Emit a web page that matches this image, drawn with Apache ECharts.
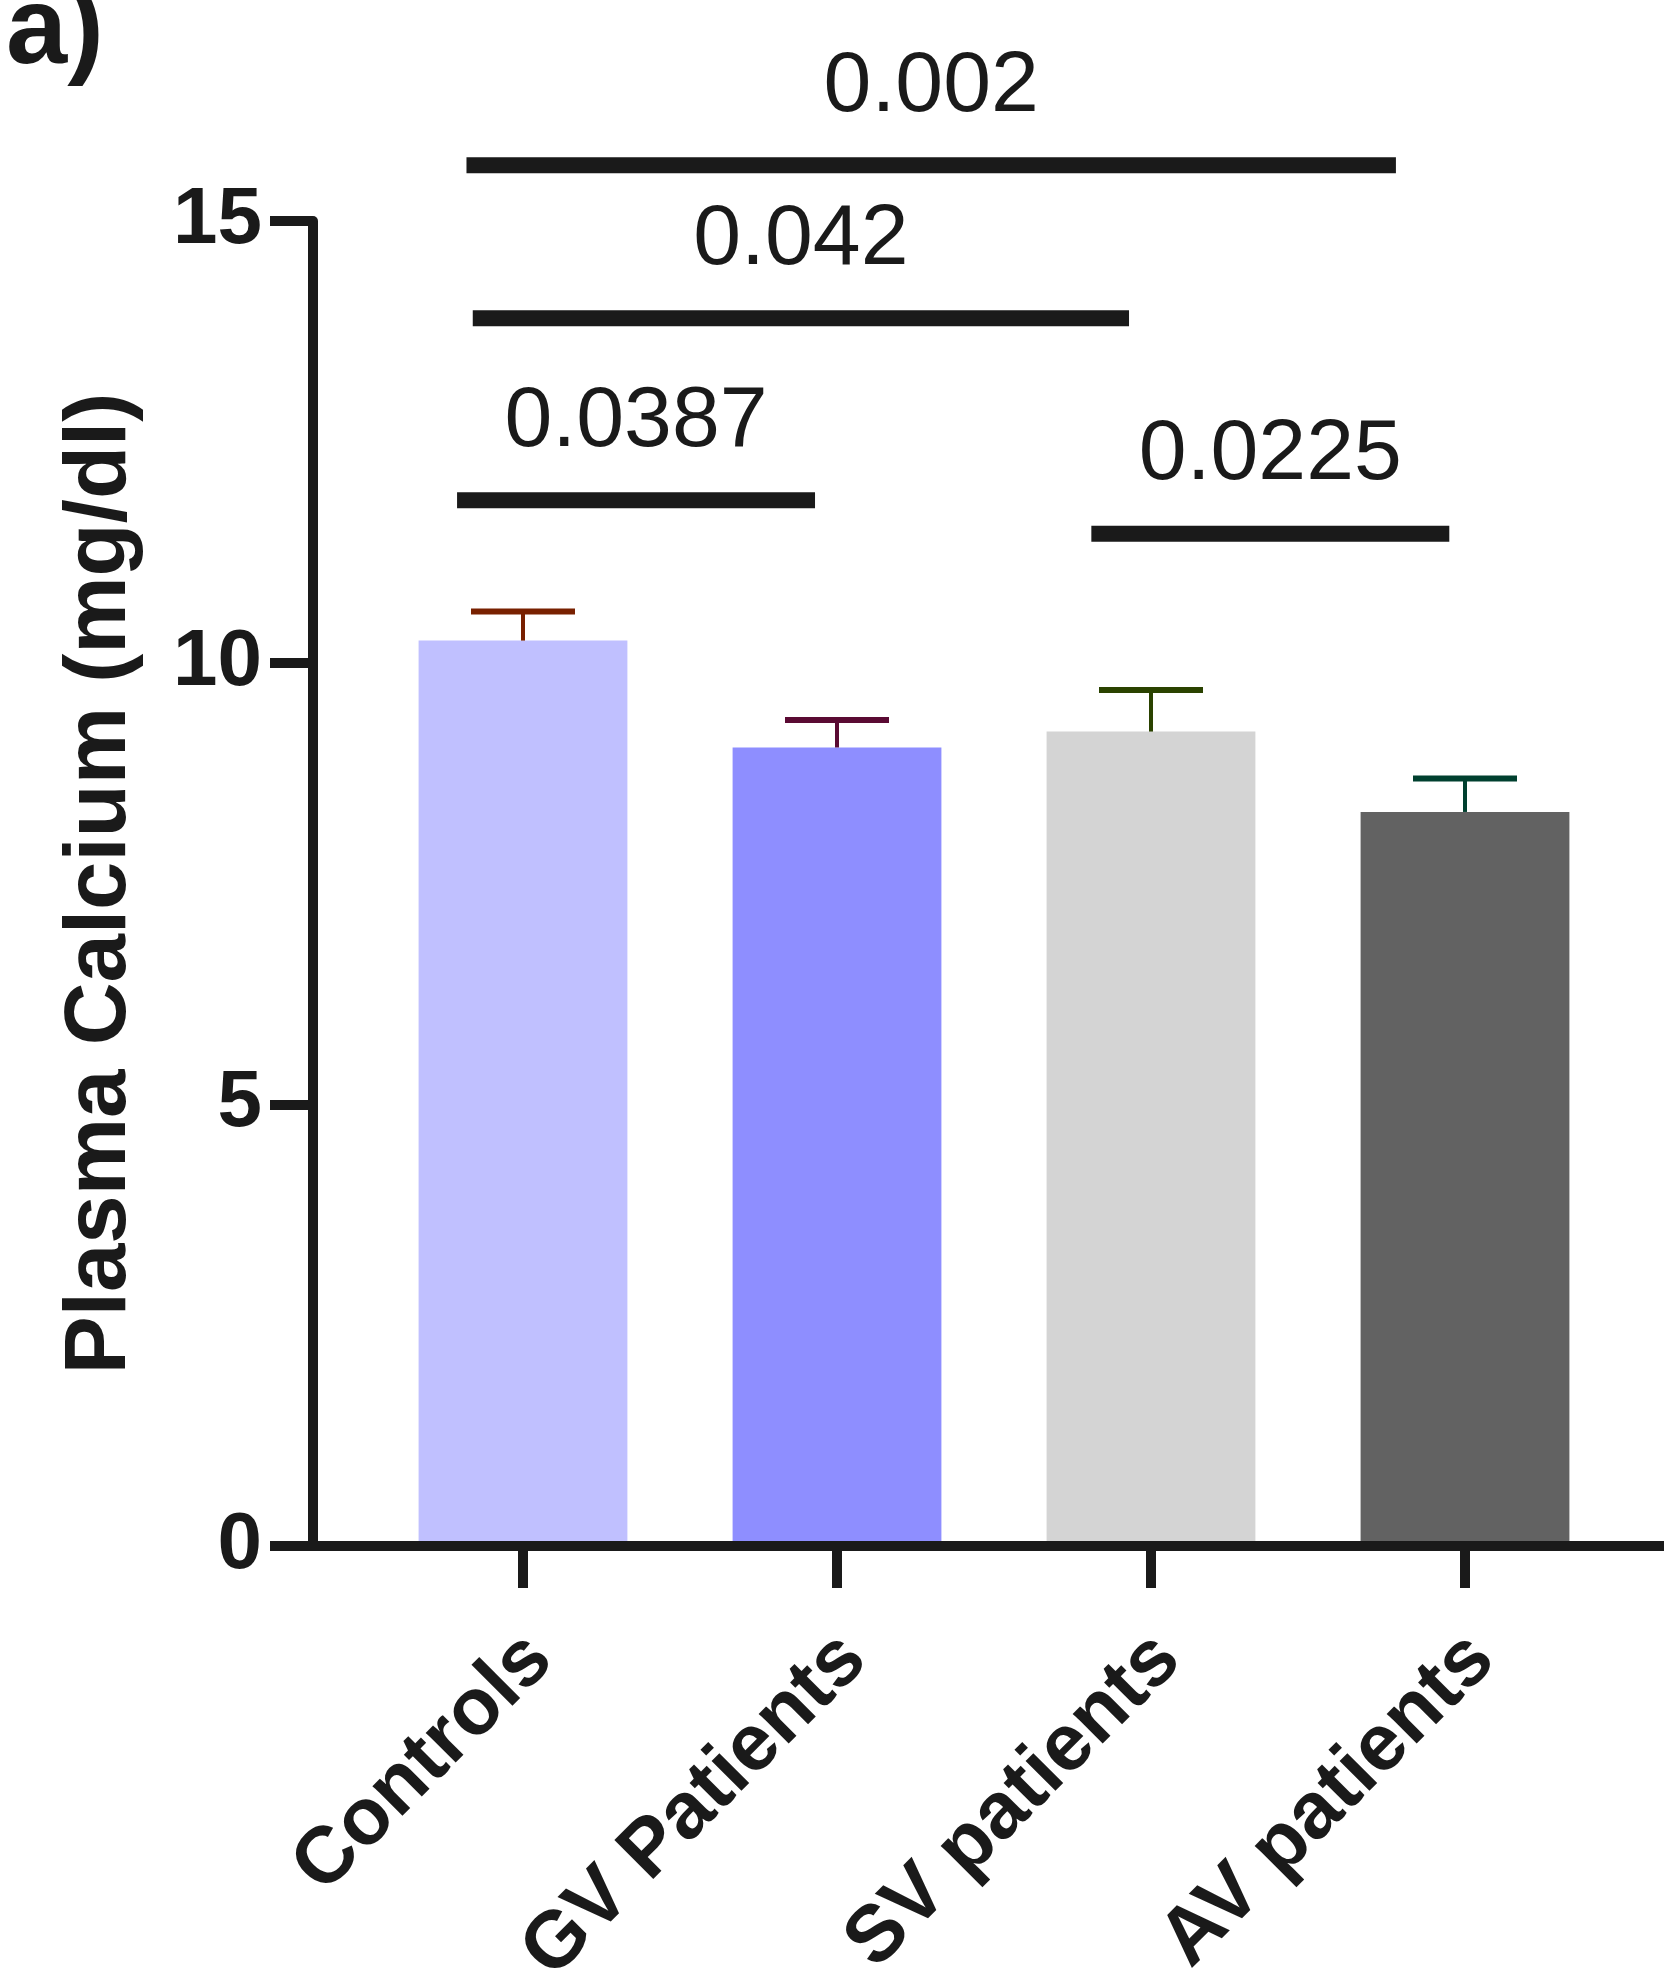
<!DOCTYPE html>
<html>
<head>
<meta charset="utf-8">
<script src="https://cdn.jsdelivr.net/npm/echarts@6/dist/echarts.min.js"></script>
<style>
  html, body { margin: 0; padding: 0; background: #fff; }
  #chart { width: 1664px; height: 1984px; }
</style>
</head>
<body>
<div id="chart"></div>
<script>
// groups and plasma calcium (mg/dl), mean and SEM
const categories = ['Controls', 'GV Patients', 'SV patients', 'AV patients'];
const means = [10.25, 9.04, 9.22, 8.31];
const sem = [0.33, 0.31, 0.47, 0.38];
const yTicks = [0, 5, 10, 15];

// comparison bars: span along the category axis, height in mg/dl, p value
const compStart = [-0.18, -0.16, -0.21, 1.81];
const compEnd = [2.78, 1.93, 0.93, 2.95];
const compLevel = [15.63, 13.90, 11.84, 11.46];
const compP = ['0.002', '0.042', '0.0387', '0.0225'];

const barColors = ['#c0c0ff', '#8e8eff', '#d4d4d4', '#626262'];
const errColors = ['#782000', '#5a0a33', '#2a4200', '#00402f'];
const ink = '#1a1a1a';
const font = '"Liberation Sans", Arial, Helvetica, sans-serif';

const chart = echarts.init(document.getElementById('chart'));

const labelA = {
    type: 'text', left: 6, top: -22, z: 20,
    style: { text: 'a)', fill: ink, font: 'bold 110px ' + font }
};

const option = {
    animation: false,
    backgroundColor: '#fff',
    grid: { left: 366, right: 42, top: 221, bottom: 438, outerBoundsMode: 'none', containLabel: false },
    xAxis: {
        type: 'category',
        data: categories,
        axisLine: { show: true, lineStyle: { color: ink, width: 10 } },
        axisTick: { show: true, alignWithLabel: true, length: 42, lineStyle: { color: ink, width: 10 } },
        axisLabel: {
            rotate: 45, margin: 118, color: ink,
            padding: [0, -24, 0, 0],
            fontFamily: font, fontWeight: 'bold', fontSize: 80
        }
    },
    yAxis: {
        type: 'value',
        min: yTicks[0],
        max: yTicks[yTicks.length - 1],
        interval: yTicks[1] - yTicks[0],
        offset: 53,
        name: 'Plasma Calcium (mg/dl)',
        nameLocation: 'middle',
        nameRotate: 90,
        nameGap: 168,
        nameTextStyle: { color: ink, fontFamily: font, fontWeight: 'bold', fontSize: 87 },
        axisLine: { show: true, lineStyle: { color: ink, width: 10 } },
        axisTick: { show: true, length: 43, lineStyle: { color: ink, width: 10 } },
        axisLabel: { margin: 51, color: ink, fontFamily: font, fontWeight: 'bold', fontSize: 80 },
        splitLine: { show: false }
    },
    series: [
        {
            type: 'bar',
            barWidth: '66.5%',
            data: means.map((m, i) => ({ value: m, itemStyle: { color: barColors[i] } }))
        },
        {
            // SEM, drawn upward only
            type: 'custom',
            clip: false,
            z: 5,
            data: means.map((m, i) => [i, m, m + sem[i]]),
            encode: { x: 0, y: [1, 2] },
            renderItem: (params, api) => {
                const base = api.coord([api.value(0), api.value(1)]);
                const top = api.coord([api.value(0), api.value(2)]);
                const color = errColors[params.dataIndex];
                return {
                    type: 'group',
                    children: [
                        { type: 'rect', shape: { x: base[0] - 2, y: top[1], width: 4, height: base[1] - top[1] }, style: { fill: color } },
                        { type: 'rect', shape: { x: top[0] - 52, y: top[1] - 3, width: 104, height: 6 }, style: { fill: color } }
                    ]
                };
            }
        },
        {
            // significance bars with p values
            type: 'custom',
            clip: false,
            z: 5,
            data: compLevel.map((v) => [0, v]),
            encode: { x: 0, y: 1 },
            renderItem: (params, api) => {
                const i = params.dataIndex;
                const p0 = api.coord([0, api.value(1)]);
                const band = api.size([1, 0])[0];
                const x1 = p0[0] + compStart[i] * band;
                const x2 = p0[0] + compEnd[i] * band;
                return {
                    type: 'group',
                    children: [
                        { type: 'rect', shape: { x: x1, y: p0[1] - 8, width: x2 - x1, height: 16 }, style: { fill: ink } },
                        {
                            type: 'text',
                            x: (x1 + x2) / 2,
                            y: p0[1] - 78,
                            style: {
                                text: compP[i], fill: ink,
                                font: '86px ' + font,
                                align: 'center', verticalAlign: 'middle'
                            }
                        }
                    ]
                };
            }
        }
    ],
    graphic: [labelA]
};

chart.setOption(option);

// x axis baseline runs from the y tick ends to the right edge
const y0 = chart.convertToPixel({ yAxisIndex: 0 }, 0);
chart.setOption({
    graphic: [
        labelA,
        {
            type: 'rect', z: 20,
            shape: { x: 270, y: y0 - 5, width: 1394, height: 10 },
            style: { fill: ink }
        }
    ]
});
</script>
</body>
</html>
